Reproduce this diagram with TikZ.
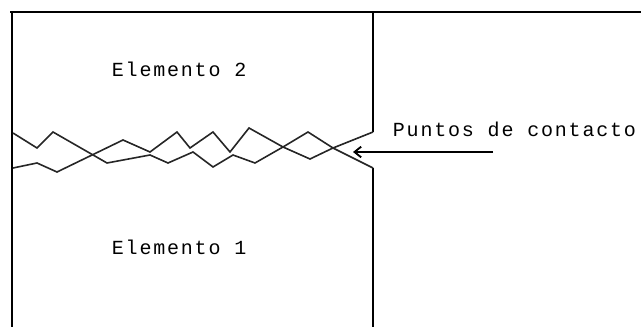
\documentclass[tikz,border=0pt]{standalone}
\usepackage{fontspec}
\newfontfamily\pixelfont[LetterSpace=9]{Liberation Mono}
\usetikzlibrary{arrows.meta}

\begin{document}
\begin{tikzpicture}[x = 0.75pt, y = -0.75pt, line width = 1.4pt, > = {Straight Barb[length = 5pt, width = 8pt]}, txt/.style={font = \pixelfont\fontsize{15}{17}\selectfont, inner sep = 0pt, anchor = base west}, rough/.style={line width = 1.2pt, black!85}]
  \useasboundingbox (0,0) rectangle (641,327);

  % frame
  \draw (10,12) -- (641,12);
  \draw (12,12) -- (12,327);

  % box edge, open where the surfaces touch
  \coordinate (edge-top) at (373,12);
  \coordinate (edge-a) at (373,132);
  \coordinate (edge-b) at (373,168);
  \coordinate (edge-bottom) at (373,327);
  \draw (edge-top) -- (edge-a);
  \draw (edge-b) -- (edge-bottom);

  % rough surfaces
  \draw [rough] (13,133) -- (37,148) -- (53,132) -- (107,163) -- (150,155) -- (168,163) -- (193,152) -- (213,167) -- (233,155) -- (255,163) -- (283,147) -- (308,132) -- (333,148) -- (edge-b);
  \draw [rough] (13,168) -- (37,163) -- (57,172) -- (123,140) -- (150,152) -- (177,132) -- (190,148) -- (213,132) -- (230,152) -- (249,128) -- (283,147) -- (310,159) -- (333,148) -- (edge-a);

  % nodes
  \node [txt] (elem-2) at (111,77) {Elemento 2};
  \node [txt] (elem-1) at (111,254) {Elemento 1};
  \node [txt] (contact) at (392,137) {Puntos de contacto};

  % edges
  \coordinate (arrow-tail) at (493,152);
  \coordinate (arrow-tip) at (353,152);
  \draw [->] (arrow-tail) -- (arrow-tip);

\end{tikzpicture}
\end{document}
